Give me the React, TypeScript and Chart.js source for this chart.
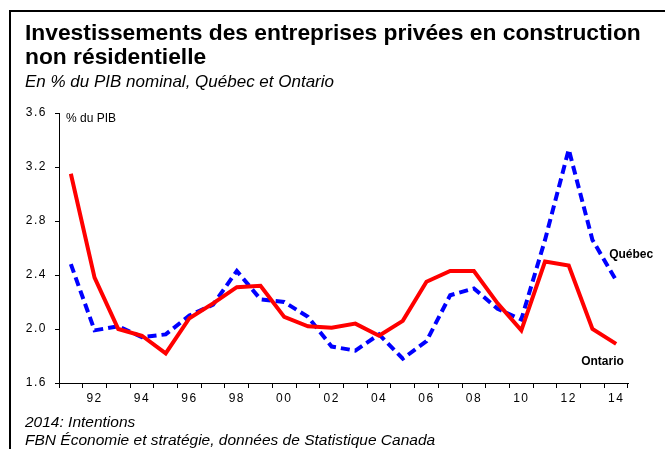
import React, { useEffect, useRef } from 'react';
import { Chart, registerables } from 'chart.js';

Chart.register(...registerables);

const years = [1991, 1992, 1993, 1994, 1995, 1996, 1997, 1998, 1999, 2000, 2001, 2002, 2003, 2004, 2005, 2006, 2007, 2008, 2009, 2010, 2011, 2012, 2013, 2014];
const ontario = [3.15, 2.38, 2.0, 1.95, 1.82, 2.08, 2.19, 2.31, 2.32, 2.09, 2.02, 2.01, 2.04, 1.95, 2.06, 2.35, 2.43, 2.43, 2.19, 1.99, 2.5, 2.47, 2.0, 1.89];
const quebec = [2.48, 1.99, 2.02, 1.94, 1.96, 2.1, 2.18, 2.43, 2.22, 2.2, 2.09, 1.87, 1.84, 1.96, 1.78, 1.91, 2.25, 2.3, 2.15, 2.07, 2.66, 3.33, 2.66, 2.36];
const yMin = 1.6;
const yMax = 3.6;
const yStep = 0.4;

const FONT = '"Liberation Sans", Arial, sans-serif';

const spacing = {
  id: 'spacing',
  beforeDraw(chart: any) {
    chart.ctx.letterSpacing = '1.5px';
  },
};

const annotations = {
  id: 'annotations',
  afterDatasetsDraw(chart: any) {
    const ctx = chart.ctx;
    const area = chart.chartArea;
    ctx.save();
    ctx.letterSpacing = '0px';
    ctx.fillStyle = '#000';
    ctx.textBaseline = 'middle';
    ctx.textAlign = 'left';
    ctx.font = `12px ${FONT}`;
    ctx.fillText('% du PIB', area.left + 7, area.top + 6);
    ctx.font = `bold 12px ${FONT}`;
    const q = chart.getDatasetMeta(1).data;
    const qLast = q[q.length - 1];
    ctx.fillText('Québec', qLast.x - 7, qLast.y - 26);
    const o = chart.getDatasetMeta(0).data;
    const oLast = o[o.length - 1];
    ctx.fillText('Ontario', oLast.x - 35, oLast.y + 18);
    ctx.restore();
  },
};

export default function App() {
  const ref = useRef<HTMLCanvasElement | null>(null);

  useEffect(() => {
    if (!ref.current) return;
    const chart = new Chart(ref.current, {
      type: 'line',
      data: {
        labels: years.map((y) => String(y % 100).padStart(2, '0')),
        datasets: [
          {
            label: 'Ontario',
            data: ontario,
            borderColor: '#ff0000',
            borderWidth: 4,
            pointRadius: 0,
            tension: 0,
            fill: false,
          },
          {
            label: 'Québec',
            data: quebec,
            borderColor: '#0000ff',
            borderWidth: 4,
            borderDash: [9, 5],
            pointRadius: 0,
            tension: 0,
            fill: false,
          },
        ],
      },
      options: {
        animation: false,
        responsive: false,
        maintainAspectRatio: false,
        layout: { padding: { left: 0, right: 37, top: 113, bottom: 0 } },
        plugins: { legend: { display: false }, tooltip: { enabled: false }, title: { display: false } },
        scales: {
          x: {
            type: 'category',
            offset: true,
            afterFit: (s: any) => { s.height = 66; },
            grid: { display: true, offset: true, drawOnChartArea: false, drawTicks: true, tickLength: 5, color: '#000', lineWidth: 1 },
            border: { display: true, color: '#000', width: 1 },
            ticks: {
              autoSkip: false,
              maxRotation: 0,
              minRotation: 0,
              padding: 3,
              color: '#000',
              font: { family: FONT, size: 12 },
              callback: function (_v: any, i: number) {
                return years[i] % 2 === 0 ? String(years[i] % 100).padStart(2, '0') : '';
              },
            },
          },
          y: {
            min: yMin,
            max: yMax,
            afterFit: (s: any) => { s.width = 59; },
            grid: { display: true, drawOnChartArea: false, drawTicks: true, tickLength: 4, color: '#000', lineWidth: 1 },
            border: { display: true, color: '#000', width: 1 },
            ticks: {
              stepSize: yStep,
              padding: 8,
              color: '#000',
              font: { family: FONT, size: 12 },
              callback: (v: any) => Number(v).toFixed(1),
            },
          },
        },
      },
      plugins: [spacing, annotations],
    } as any);
    return () => chart.destroy();
  }, []);

  return (
    <div style={{ position: 'absolute', left: 0, top: 0, width: 665, height: 449, background: '#fff', fontFamily: FONT, overflow: 'hidden' }}>
      <div style={{ position: 'absolute', left: 9, top: 10, width: 656, height: 439, borderLeft: '2px solid #000', borderTop: '2px solid #000' }} />
      <canvas ref={ref} width={665} height={449} style={{ position: 'absolute', left: 0, top: 0 }} />
      <div style={{ position: 'absolute', left: 25, top: 20, fontWeight: 'bold', fontSize: 22.8, lineHeight: '24px', color: '#000', whiteSpace: 'nowrap' }}>
        Investissements des entreprises privées en construction
        <br />
        non résidentielle
      </div>
      <div style={{ position: 'absolute', left: 25, top: 72, fontStyle: 'italic', fontSize: 17, lineHeight: '20px', color: '#000', whiteSpace: 'nowrap' }}>
        En % du PIB nominal, Québec et Ontario
      </div>
      <div style={{ position: 'absolute', left: 25, top: 413, fontStyle: 'italic', fontSize: 15.5, lineHeight: '18px', color: '#000', whiteSpace: 'nowrap' }}>
        2014: Intentions
        <br />
        FBN Économie et stratégie, données de Statistique Canada
      </div>
    </div>
  );
}
